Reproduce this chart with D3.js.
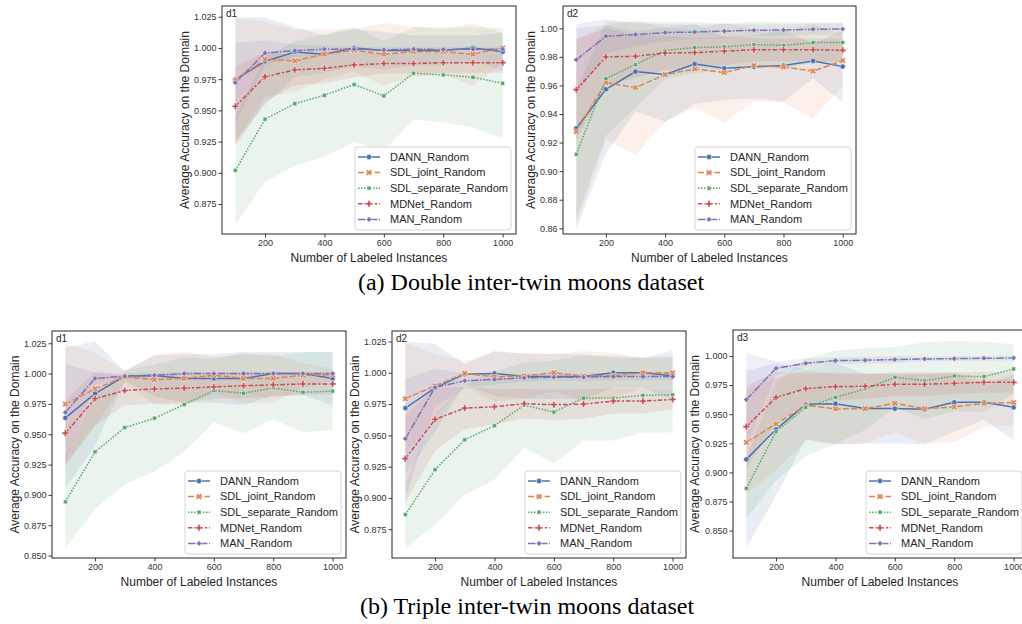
<!DOCTYPE html>
<html><head><meta charset="utf-8">
<script src="https://cdn.jsdelivr.net/npm/d3@7/dist/d3.min.js"></script>
<style>body{margin:0;background:#fff} svg{display:block}</style>
</head><body><svg id="c" width="1022" height="624"></svg>
<script>
const xValues = [100,200,300,400,500,600,700,800,900,1000];
const seriesNames = ["DANN_Random","SDL_joint_Random","SDL_separate_Random","MDNet_Random","MAN_Random"];
const seriesColors = ["#4C72B0","#DD8452","#55A868","#C44E52","#8172B3"];
const xTicks = [200,400,600,800,1000];

// Double inter-twin moons, d1 (rows: series in seriesNames order)
const doubleD1Mean = [
  [0.9747,0.9893,0.9968,0.9950,1.0000,0.9980,0.9980,0.9980,1.0000,0.9970],
  [0.9740,0.9910,0.9896,0.9950,0.9980,0.9950,0.9970,0.9970,0.9950,1.0000],
  [0.9020,0.9429,0.9554,0.9621,0.9707,0.9616,0.9797,0.9784,0.9765,0.9717],
  [0.9533,0.9770,0.9824,0.9837,0.9864,0.9875,0.9875,0.9882,0.9882,0.9882],
  [0.9722,0.9960,0.9978,0.9990,0.9990,0.9985,0.9990,0.9988,0.9990,0.9990]];
const doubleD1Ci = [
  [0.050,0.035,0.020,0.015,0.015,0.015,0.012,0.012,0.010,0.015],
  [0.050,0.030,0.025,0.020,0.017,0.025,0.020,0.018,0.025,0.012],
  [0.043,0.050,0.050,0.049,0.046,0.044,0.037,0.038,0.040,0.044],
  [0.032,0.020,0.012,0.012,0.010,0.008,0.008,0.008,0.008,0.008],
  [0.032,0.010,0.005,0.003,0.002,0.002,0.002,0.002,0.002,0.002]];
const doubleD1YTicks = [0.875,0.900,0.925,0.950,0.975,1.000,1.025];

// Double inter-twin moons, d2
const doubleD2Mean = [
  [0.9300,0.9573,0.9697,0.9676,0.9750,0.9720,0.9730,0.9739,0.9771,0.9732],
  [0.9277,0.9620,0.9585,0.9676,0.9715,0.9690,0.9740,0.9730,0.9700,0.9774],
  [0.9118,0.9648,0.9746,0.9846,0.9865,0.9870,0.9886,0.9880,0.9900,0.9900],
  [0.9570,0.9800,0.9804,0.9827,0.9830,0.9840,0.9850,0.9850,0.9850,0.9846],
  [0.9780,0.9944,0.9956,0.9970,0.9974,0.9980,0.9986,0.9988,0.9993,0.9995]];
const doubleD2Ci = [
  [0.070,0.045,0.028,0.033,0.028,0.022,0.022,0.025,0.012,0.025],
  [0.065,0.040,0.047,0.033,0.027,0.035,0.025,0.025,0.033,0.018],
  [0.045,0.040,0.030,0.020,0.018,0.016,0.016,0.016,0.014,0.014],
  [0.035,0.020,0.015,0.012,0.010,0.010,0.008,0.008,0.008,0.008],
  [0.025,0.012,0.008,0.006,0.005,0.005,0.004,0.004,0.004,0.004]];
const doubleD2YTicks = [0.86,0.88,0.90,0.92,0.94,0.96,0.98,1.00];

// Triple inter-twin moons, d1
const tripleD1Mean = [
  [0.9635,0.9835,0.9980,0.9984,0.9960,0.9960,0.9960,1.0000,1.0000,0.9960],
  [0.9748,0.9874,0.9973,0.9950,0.9960,0.9986,0.9960,0.9960,0.9986,0.9990],
  [0.8943,0.9355,0.9555,0.9632,0.9745,0.9860,0.9838,0.9882,0.9846,0.9855],
  [0.9509,0.9794,0.9860,0.9874,0.9880,0.9890,0.9900,0.9907,0.9915,0.9915],
  [0.9680,0.9960,0.9978,0.9986,1.0000,1.0000,1.0000,1.0000,1.0000,1.0000]];
const tripleD1Ci = [
  [0.058,0.043,0.004,0.017,0.020,0.020,0.022,0.018,0.018,0.022],
  [0.050,0.030,0.005,0.020,0.022,0.015,0.020,0.020,0.010,0.005],
  [0.038,0.047,0.047,0.044,0.039,0.026,0.033,0.026,0.033,0.032],
  [0.027,0.022,0.012,0.012,0.012,0.010,0.010,0.010,0.009,0.009],
  [0.040,0.005,0.002,0.002,0.001,0.001,0.001,0.001,0.001,0.001]];
const tripleD1YTicks = [0.850,0.875,0.900,0.925,0.950,0.975,1.000,1.025];

// Triple inter-twin moons, d2
const tripleD2Mean = [
  [0.9718,0.9880,0.9989,0.9995,0.9970,0.9970,0.9970,1.0000,1.0000,0.9976],
  [0.9793,0.9896,0.9995,0.9968,0.9976,1.0000,0.9973,0.9976,1.0000,1.0000],
  [0.8867,0.9226,0.9465,0.9577,0.9742,0.9686,0.9798,0.9798,0.9820,0.9824],
  [0.9314,0.9628,0.9718,0.9729,0.9753,0.9745,0.9750,0.9774,0.9774,0.9787],
  [0.9473,0.9883,0.9936,0.9947,0.9960,0.9965,0.9965,0.9970,0.9970,0.9970]];
const tripleD2Ci = [
  [0.053,0.035,0.008,0.018,0.018,0.018,0.018,0.012,0.012,0.020],
  [0.045,0.025,0.010,0.020,0.018,0.015,0.020,0.018,0.012,0.013],
  [0.027,0.044,0.044,0.043,0.034,0.041,0.034,0.034,0.030,0.030],
  [0.035,0.025,0.017,0.014,0.012,0.012,0.012,0.010,0.010,0.008],
  [0.048,0.015,0.006,0.004,0.003,0.003,0.003,0.003,0.003,0.003]];
const tripleD2YTicks = [0.875,0.900,0.925,0.950,0.975,1.000,1.025];

// Triple inter-twin moons, d3
const tripleD3Mean = [
  [0.9112,0.9370,0.9585,0.9590,0.9548,0.9548,0.9542,0.9602,0.9602,0.9559],
  [0.9258,0.9416,0.9576,0.9545,0.9548,0.9593,0.9548,0.9562,0.9593,0.9600],
  [0.8863,0.9350,0.9559,0.9645,0.9717,0.9817,0.9788,0.9828,0.9822,0.9888],
  [0.9393,0.9645,0.9719,0.9737,0.9740,0.9757,0.9757,0.9765,0.9774,0.9774],
  [0.9625,0.9894,0.9937,0.9960,0.9963,0.9969,0.9974,0.9977,0.9980,0.9983]];
const tripleD3Ci = [
  [0.076,0.057,0.030,0.035,0.030,0.030,0.030,0.025,0.015,0.028],
  [0.045,0.040,0.030,0.030,0.030,0.025,0.030,0.030,0.020,0.020],
  [0.026,0.042,0.042,0.040,0.035,0.026,0.033,0.030,0.030,0.021],
  [0.035,0.022,0.013,0.012,0.011,0.010,0.010,0.009,0.009,0.009],
  [0.040,0.006,0.004,0.003,0.003,0.003,0.002,0.002,0.002,0.002]];
const tripleD3YTicks = [0.850,0.875,0.900,0.925,0.950,0.975,1.000];

const captions = ["(a) Double inter-twin moons dataset","(b) Triple inter-twin moons dataset"];

const panels = [
  {label:"d1", mean:doubleD1Mean, ci:doubleD1Ci, yTicks:doubleD1YTicks, fmt:".3f", left:222, top:6, w:294, h:228, yDom:[0.851,1.0336], tOff:37},
  {label:"d2", mean:doubleD2Mean, ci:doubleD2Ci, yTicks:doubleD2YTicks, fmt:".2f", left:563, top:6, w:293, h:228, yDom:[0.856,1.0156], tOff:32},
  {label:"d1", mean:tripleD1Mean, ci:tripleD1Ci, yTicks:tripleD1YTicks, fmt:".3f", left:52, top:331, w:294, h:227, yDom:[0.848,1.0351], tOff:37},
  {label:"d2", mean:tripleD2Mean, ci:tripleD2Ci, yTicks:tripleD2YTicks, fmt:".3f", left:392, top:331, w:294, h:227, yDom:[0.852,1.0334], tOff:37},
  {label:"d3", mean:tripleD3Mean, ci:tripleD3Ci, yTicks:tripleD3YTicks, fmt:".3f", left:733, top:330, w:294, h:228, yDom:[0.8265,1.0223], tOff:38}
];

const dashes = [null, "6,2.25", "1.5,1.5", "4.5,1.9,2.25,1.9", "7.5,1.5,1.5,1.5"];
const markers = [
  {type:d3.symbolCircle, size:22, rot:0},
  {type:d3.symbolCross, size:24, rot:45},
  {type:d3.symbolSquare, size:16, rot:0},
  {type:d3.symbolCross, size:24, rot:0},
  {type:d3.symbolSquare, size:16, rot:45}
];
const FONT = "'Liberation Sans', Arial, sans-serif";
const INK = "#262626";

const svg = d3.select("#c");

panels.forEach((p, pi) => {
  const x = d3.scaleLinear().domain([55,1045]).range([0,p.w]);
  const y = d3.scaleLinear().domain(p.yDom).range([p.h,0]);
  const g = svg.append("g").attr("transform",`translate(${p.left},${p.top})`);
  const clipId = "clip"+pi;
  g.append("clipPath").attr("id",clipId).append("rect").attr("width",p.w).attr("height",p.h);
  const plot = g.append("g").attr("clip-path",`url(#${clipId})`);

  // bands
  seriesNames.forEach((s, si) => {
    const pts = xValues.map((xv,i)=>({x:xv, m:p.mean[si][i], c:p.ci[si][i]}));
    const area = d3.area().x(d=>x(d.x)).y0(d=>y(d.m-d.c)).y1(d=>y(d.m+d.c));
    plot.append("path").attr("d",area(pts)).attr("fill",seriesColors[si]).attr("fill-opacity",0.12).attr("stroke","none");
  });
  // lines
  seriesNames.forEach((s, si) => {
    const pts = xValues.map((xv,i)=>({x:xv, m:p.mean[si][i]}));
    const line = d3.line().x(d=>x(d.x)).y(d=>y(d.m));
    plot.append("path").attr("d",line(pts)).attr("fill","none").attr("stroke",seriesColors[si])
      .attr("stroke-width",1.5).attr("stroke-dasharray",dashes[si]);
  });
  // markers
  seriesNames.forEach((s, si) => {
    const mk = markers[si];
    const sym = d3.symbol().type(mk.type).size(mk.size);
    xValues.forEach((xv,i)=>{
      plot.append("path").attr("d",sym())
        .attr("transform",`translate(${x(xv)},${y(p.mean[si][i])}) rotate(${mk.rot})`)
        .attr("fill",seriesColors[si]).attr("stroke","#fff").attr("stroke-width",0.5);
    });
  });

  // axes
  const xa = g.append("g").attr("transform",`translate(0,${p.h})`)
    .call(d3.axisBottom(x).tickValues(xTicks).tickSize(3.5).tickPadding(2.5).tickFormat(d3.format("d")));
  const ya = g.append("g")
    .call(d3.axisLeft(y).tickValues(p.yTicks).tickSize(3.5).tickPadding(2).tickFormat(d3.format(p.fmt)));
  [xa, ya].forEach(a=>{
    a.select(".domain").remove();
    a.selectAll("line").attr("stroke",INK).attr("stroke-width",0.9);
    a.selectAll("text").attr("font-family",FONT).attr("font-size",9).attr("fill","#333");
  });
  // frame
  g.append("rect").attr("width",p.w).attr("height",p.h).attr("fill","none").attr("stroke",INK).attr("stroke-width",1);

  // panel label
  g.append("text").attr("x",4).attr("y",11).text(p.label)
    .attr("font-family",FONT).attr("font-size",10).attr("fill",INK);

  // axis titles
  g.append("text").attr("x",p.w/2).attr("y",p.h+28).attr("text-anchor","middle")
    .attr("font-family",FONT).attr("font-size",12).attr("fill",INK).text("Number of Labeled Instances");
  g.append("text").attr("transform",`translate(${-p.tOff},${p.h/2}) rotate(-90)`)
    .attr("text-anchor","middle").attr("dy","0.35em")
    .attr("font-family",FONT).attr("font-size",12).attr("fill",INK).text("Average Accuracy on the Domain");

  // legend
  const lx = p.w-161, ly = p.h-87;
  const lg = g.append("g").attr("transform",`translate(${lx},${ly})`);
  lg.append("rect").attr("width",156).attr("height",83).attr("rx",3)
    .attr("fill","#fff").attr("fill-opacity",0.85).attr("stroke","#cccccc").attr("stroke-width",0.8);
  seriesNames.forEach((s, si) => {
    const yy = 10 + si*15.6;
    lg.append("line").attr("x1",3).attr("x2",25).attr("y1",yy).attr("y2",yy)
      .attr("stroke",seriesColors[si]).attr("stroke-width",1.5).attr("stroke-dasharray",dashes[si]);
    const mk = markers[si];
    lg.append("path").attr("d",d3.symbol().type(mk.type).size(mk.size)())
      .attr("transform",`translate(14,${yy}) rotate(${mk.rot})`)
      .attr("fill",seriesColors[si]).attr("stroke","#fff").attr("stroke-width",0.5);
    lg.append("text").attr("x",35).attr("y",yy).attr("dy","0.35em").text(s)
      .attr("font-family",FONT).attr("font-size",11).attr("fill",INK);
  });
});

// captions
svg.append("text").attr("x",531).attr("y",290).attr("text-anchor","middle")
  .attr("font-family","'Liberation Serif', 'Times New Roman', serif").attr("font-size",24).attr("fill","#000").text(captions[0]);
svg.append("text").attr("x",527).attr("y",614).attr("text-anchor","middle")
  .attr("font-family","'Liberation Serif', 'Times New Roman', serif").attr("font-size",24).attr("fill","#000").text(captions[1]);
</script></body></html>
